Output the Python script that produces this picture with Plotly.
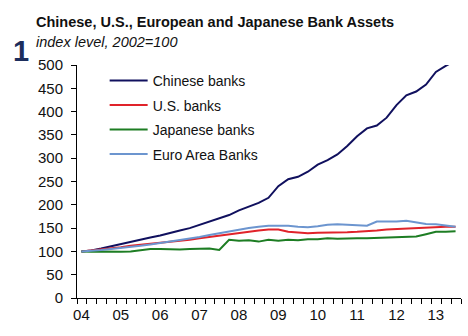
import plotly.graph_objects as go

# Quarterly observations, 2004Q1 .. 2013Q3 (index, 2002=100)
quarters = [2004 + 0.25 * k for k in range(39)]

chinese = [100, 102, 106, 111, 116, 120, 125, 130, 134, 140,
           145, 150, 157, 164, 171, 178, 188, 196, 204, 215,
           240, 255, 260, 271, 286, 296, 308, 326, 347, 364,
           370, 387, 414, 435, 443, 458, 485, 498, 510]
us = [100, 102, 104, 107, 109, 112, 114, 117, 119, 121,
      123, 125, 128, 131, 134, 137, 140, 142, 145, 147,
      147, 142, 140, 139, 140, 140, 141, 141, 142, 143,
      145, 147, 148, 149, 150, 152, 153, 153, 153]
japan = [100, 99, 100, 99, 99, 100, 102, 105, 105, 104,
         104, 105, 105, 106, 103, 125, 123, 124, 121, 125,
         123, 125, 124, 126, 126, 128, 127, 128, 128, 128,
         129, 130, 131, 132, 132, 137, 142, 142, 143]
euro = [100, 101, 103, 105, 107, 110, 112, 115, 118, 121,
        124, 127, 131, 135, 139, 143, 147, 150, 153, 155,
        155, 155, 153, 152, 154, 157, 158, 157, 155, 155,
        164, 164, 164, 166, 163, 159, 158, 156, 153]

series_names = ["Chinese banks", "U.S. banks", "Japanese banks", "Euro Area Banks"]
series_values = [chinese, us, japan, euro]
series_colors = ["#10105e", "#e0232a", "#1d7d23", "#6c95cf"]

year_ticks = list(range(2004, 2014))
year_labels = ["04", "05", "06", "07", "08", "09", "10", "11", "12", "13"]
x_start = 2003.888
quarter_ticks = [x_start + 0.25 * k for k in range(40)]

fig = go.Figure()
for name, vals, col in zip(series_names, series_values, series_colors):
    fig.add_trace(go.Scatter(x=quarters, y=vals, mode="lines", name=name,
                             legendgroup=name,
                             line=dict(color=col, width=2)))

font_family = "Liberation Sans, Arial, Helvetica, sans-serif"

fig.update_layout(
    width=468, height=336,
    margin=dict(l=77, r=7, t=65, b=38),
    paper_bgcolor="white", plot_bgcolor="white",
    font=dict(family=font_family, size=14, color="#111111"),
    showlegend=True,
    legend=dict(x=0.072, y=1.0, xanchor="left", yanchor="top",
                bgcolor="rgba(0,0,0,0)", borderwidth=0,
                tracegroupgap=3.3, itemwidth=38,
                font=dict(size=14, family=font_family, color="#111111")),
    xaxis=dict(range=[x_start, x_start + 9.75], showgrid=False, zeroline=False,
               showline=True, linecolor="black", linewidth=1,
               tickmode="array", tickvals=year_ticks, ticktext=year_labels,
               ticks="", ticklabelstandoff=3, tickfont=dict(size=15),
               minor=dict(tickmode="array", tickvals=quarter_ticks,
                          ticks="outside", ticklen=5, tickcolor="black",
                          tickwidth=1, showgrid=False)),
    yaxis=dict(range=[0, 500], showgrid=False, zeroline=False,
               showline=True, linecolor="black", linewidth=1,
               tickmode="array", tickvals=list(range(0, 501, 50)),
               ticks="outside", ticklen=5, tickcolor="black",
               ticklabelstandoff=5,
               tickfont=dict(size=15)),
)

# position annotations in pixel space via paper coords
plot_w = 468 - 77 - 7
plot_h = 336 - 65 - 38
def px(xp):
    return (xp - 77) / plot_w
def py(yp):
    return (336 - 38 - yp) / plot_h

fig.add_annotation(text="<b>Chinese, U.S., European and Japanese Bank Assets</b>",
                   xref="paper", yref="paper", x=px(34), y=py(22),
                   xanchor="left", yanchor="middle", showarrow=False,
                   font=dict(size=14.5, family=font_family, color="#111111"))
fig.add_annotation(text="<i>index level, 2002=100</i>",
                   xref="paper", yref="paper", x=px(34), y=py(42),
                   xanchor="left", yanchor="middle", showarrow=False,
                   font=dict(size=14.5, family=font_family, color="#111111"))
fig.add_annotation(text="<b>1</b>",
                   xref="paper", yref="paper", x=px(21), y=py(51),
                   xanchor="center", yanchor="middle", showarrow=False,
                   font=dict(size=29, family=font_family, color="#1c2d5c"))

fig.write_html("out.html")
